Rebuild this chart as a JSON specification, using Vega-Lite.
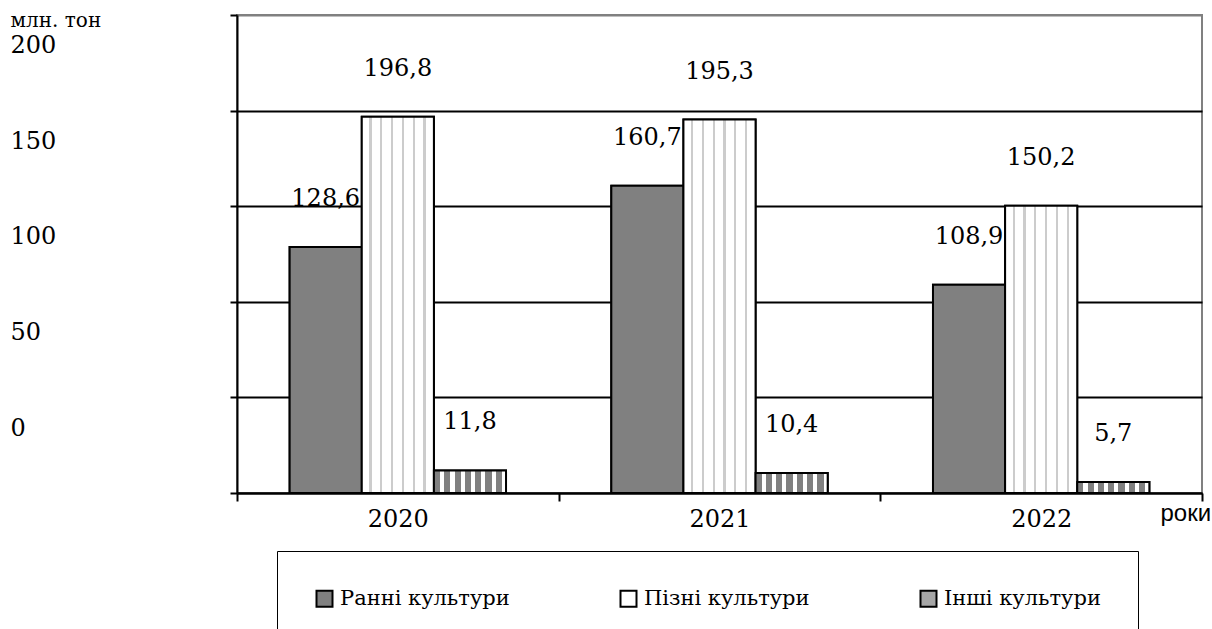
{
  "$schema": "https://vega.github.io/schema/vega-lite/v6.json",
  "width": 965,
  "height": 478,
  "autosize": {"type": "none"},
  "padding": {"left": 237, "top": 15, "right": 10, "bottom": 136},
  "background": "white",
  "config": {
    "locale": {"number": {"decimal": ",", "thousands": " ", "grouping": [3], "currency": ["", ""]}},
    "font": "DejaVu Serif",
    "view": {"stroke": "#808080", "strokeWidth": 2}
  },
  "data": {
    "values": [
      {"year": "2020", "crop": "Ранні культури", "value": 128.6},
      {"year": "2020", "crop": "Пізні культури", "value": 196.8},
      {"year": "2020", "crop": "Інші культури", "value": 11.8},
      {"year": "2021", "crop": "Ранні культури", "value": 160.7},
      {"year": "2021", "crop": "Пізні культури", "value": 195.3},
      {"year": "2021", "crop": "Інші культури", "value": 10.4},
      {"year": "2022", "crop": "Ранні культури", "value": 108.9},
      {"year": "2022", "crop": "Пізні культури", "value": 150.2},
      {"year": "2022", "crop": "Інші культури", "value": 5.7}
    ]
  },
  "encoding": {
    "x": {
      "field": "year", "type": "nominal",
      "scale": {"paddingInner": 0, "paddingOuter": 0},
      "axis": {
        "title": "роки", "labelAngle": 0, "tickBand": "extent",
        "tickSize": 8, "tickWidth": 2, "tickColor": "black",
        "domainColor": "black", "domainWidth": 2,
        "labelPadding": 6, "labelFontSize": 24, "labelFont": "DejaVu Serif", "labelColor": "black",
        "titleX": 923, "titleY": 20, "titleAlign": "left", "titleBaseline": "middle",
        "titleFont": "Liberation Sans", "titleFontSize": 24, "titleFontWeight": "normal", "titleColor": "black",
        "grid": false
      }
    },
    "xOffset": {
      "field": "crop", "type": "nominal",
      "sort": ["Ранні культури", "Пізні культури", "Інші культури"],
      "scale": {"paddingInner": 0, "paddingOuter": 0.73}
    },
    "y": {
      "field": "value", "type": "quantitative",
      "scale": {"domain": [0, 250], "nice": false},
      "axis": {
        "values": [0, 50, 100, 150, 200, 250],
        "labelExpr": "datum.value == 250 ? '' : datum.label",
        "labelOffset": -65, "labelAlign": "left", "labelBaseline": "middle", "labelPadding": 220,
        "labelFontSize": 24, "labelFont": "DejaVu Serif", "labelColor": "black", "labelOverlap": false,
        "tickSize": 7, "tickColor": "black", "tickWidth": 2,
        "domainColor": "black", "domainWidth": 2,
        "grid": true,
        "gridColor": {"condition": {"test": "datum.value === 250", "value": "#808080"}, "value": "black"},
        "gridWidth": 2,
        "title": "млн. тон", "titleAngle": 0, "titleAlign": "left", "titleBaseline": "middle",
        "titleX": -227, "titleY": 5, "titleFontSize": 20, "titleFontWeight": "normal",
        "titleFont": "DejaVu Serif", "titleColor": "black"
      }
    }
  },
  "layer": [
    {
      "mark": {"type": "bar", "stroke": "black", "strokeWidth": 2, "opacity": 1},
      "encoding": {
        "color": {
          "field": "crop", "type": "nominal",
          "scale": {
            "domain": ["Ранні культури", "Пізні культури", "Інші культури"],
            "range": ["#808080", "#ffffff", "#a6a6a6"]
          },
          "legend": {
            "orient": "none", "legendX": 40, "legendY": 536,
            "direction": "horizontal", "columns": 3, "title": null,
            "padding": 37, "strokeColor": "black",
            "symbolType": "square", "symbolSize": 256,
            "symbolStrokeColor": "black", "symbolStrokeWidth": 2, "symbolOpacity": 1,
            "labelFontSize": 21, "labelFont": "DejaVu Serif", "labelColor": "black",
            "labelOffset": 5, "columnPadding": 106, "labelLimit": 400
          }
        }
      }
    },
    {
      "mark": {"type": "bar", "stroke": "black", "strokeWidth": 2, "opacity": 1},
      "encoding": {
        "fill": {
          "condition": [
            {"test": "datum.crop === 'Пізні культури'", "value": {"gradient": "linear", "x1": 0, "y1": 0, "x2": 1, "y2": 0, "stops": [
                {"offset": 0, "color": "#ffffff"}, {"offset": 0.105, "color": "#ffffff"},
                {"offset": 0.105, "color": "#cccccc"}, {"offset": 0.135, "color": "#cccccc"},
                {"offset": 0.135, "color": "#ffffff"}, {"offset": 0.255, "color": "#ffffff"},
                {"offset": 0.255, "color": "#cccccc"}, {"offset": 0.285, "color": "#cccccc"},
                {"offset": 0.285, "color": "#ffffff"}, {"offset": 0.405, "color": "#ffffff"},
                {"offset": 0.405, "color": "#cccccc"}, {"offset": 0.435, "color": "#cccccc"},
                {"offset": 0.435, "color": "#ffffff"}, {"offset": 0.555, "color": "#ffffff"},
                {"offset": 0.555, "color": "#cccccc"}, {"offset": 0.585, "color": "#cccccc"},
                {"offset": 0.585, "color": "#ffffff"}, {"offset": 0.705, "color": "#ffffff"},
                {"offset": 0.705, "color": "#cccccc"}, {"offset": 0.735, "color": "#cccccc"},
                {"offset": 0.735, "color": "#ffffff"}, {"offset": 0.855, "color": "#ffffff"},
                {"offset": 0.855, "color": "#cccccc"}, {"offset": 0.885, "color": "#cccccc"},
                {"offset": 0.885, "color": "#ffffff"}, {"offset": 1, "color": "#ffffff"}
              ]}},
            {"test": "datum.crop === 'Інші культури'", "value": {"gradient": "linear", "x1": 0, "y1": 0, "x2": 1, "y2": 0, "stops": [
                {"offset": 0, "color": "#808080"}, {"offset": 0.0857, "color": "#808080"},
                {"offset": 0.0857, "color": "#ffffff"}, {"offset": 0.1429, "color": "#ffffff"},
                {"offset": 0.1429, "color": "#808080"}, {"offset": 0.2286, "color": "#808080"},
                {"offset": 0.2286, "color": "#ffffff"}, {"offset": 0.2857, "color": "#ffffff"},
                {"offset": 0.2857, "color": "#808080"}, {"offset": 0.3714, "color": "#808080"},
                {"offset": 0.3714, "color": "#ffffff"}, {"offset": 0.4286, "color": "#ffffff"},
                {"offset": 0.4286, "color": "#808080"}, {"offset": 0.5143, "color": "#808080"},
                {"offset": 0.5143, "color": "#ffffff"}, {"offset": 0.5714, "color": "#ffffff"},
                {"offset": 0.5714, "color": "#808080"}, {"offset": 0.6571, "color": "#808080"},
                {"offset": 0.6571, "color": "#ffffff"}, {"offset": 0.7143, "color": "#ffffff"},
                {"offset": 0.7143, "color": "#808080"}, {"offset": 0.8, "color": "#808080"},
                {"offset": 0.8, "color": "#ffffff"}, {"offset": 0.8571, "color": "#ffffff"},
                {"offset": 0.8571, "color": "#808080"}, {"offset": 0.9429, "color": "#808080"},
                {"offset": 0.9429, "color": "#ffffff"}, {"offset": 1, "color": "#ffffff"}
              ]}}
          ],
          "value": "#808080"
        }
      }
    },
    {
      "mark": {"type": "text", "dy": -48, "fontSize": 24, "font": "DejaVu Serif", "baseline": "middle", "color": "black"},
      "encoding": {
        "text": {"field": "value", "type": "quantitative", "format": ".1f"}
      }
    }
  ]
}
